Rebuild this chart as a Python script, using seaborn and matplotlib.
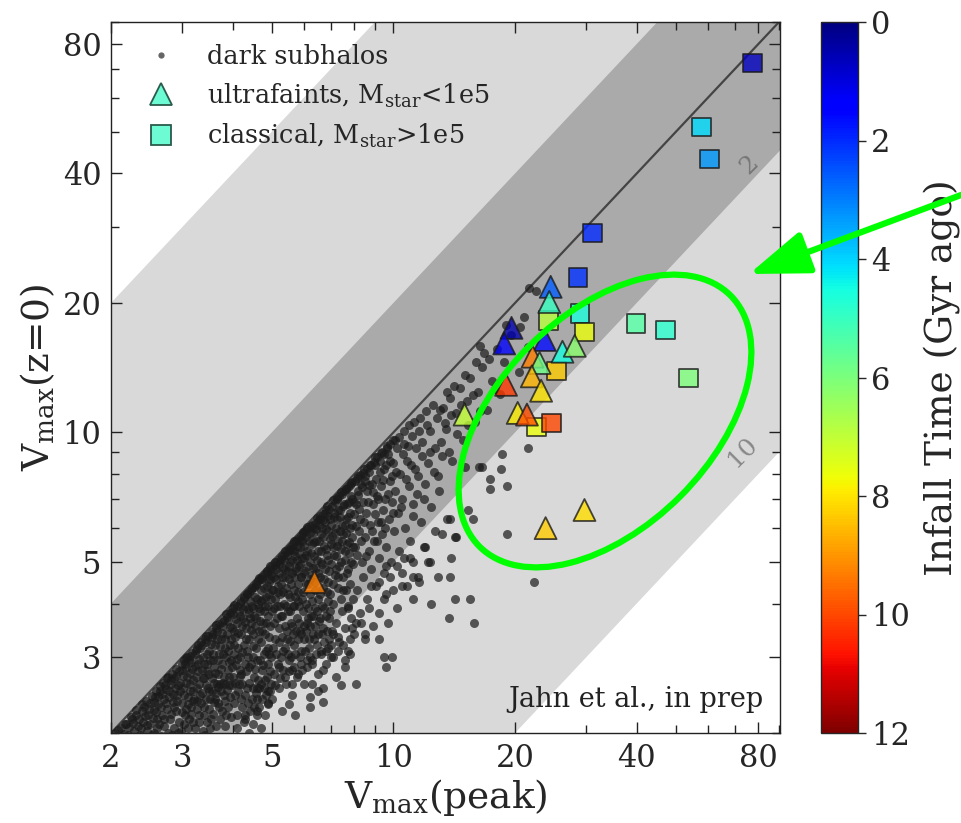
import matplotlib
matplotlib.use("Agg")
import matplotlib.pyplot as plt
import seaborn as sns
import pandas as pd
import numpy as np
from matplotlib.lines import Line2D
from matplotlib.patches import Ellipse, FancyArrowPatch
from matplotlib.transforms import IdentityTransform
from matplotlib.ticker import FixedLocator, LogLocator, NullFormatter, FixedFormatter

# ---------------- data ----------------
dark_points = [
 (2.05,2.0),(2.1,1.95),(2.12,2.05),(2.18,2.1),(2.2,1.98),(2.25,2.15),(2.28,2.02),(2.3,2.2),(2.33,2.08),(2.36,1.98),
 (2.38,2.25),(2.4,2.12),(2.42,2.3),(2.45,2.02),(2.47,2.2),(2.5,2.35),(2.5,2.1),(2.53,1.98),(2.55,2.26),(2.57,2.42),
 (2.6,2.15),(2.6,2.05),(2.62,2.33),(2.65,2.5),(2.67,2.2),(2.7,2.08),(2.7,2.4),(2.72,2.58),(2.75,2.28),(2.77,2.0),
 (2.78,2.5),(2.8,2.15),(2.82,2.65),(2.84,2.36),(2.86,2.05),(2.88,2.55),(2.9,2.25),(2.9,2.72),(2.92,2.45),(2.95,2.12),
 (2.96,2.62),(2.98,2.02),(3.0,2.35),(3.0,2.8),(2.55,2.0),(2.3,1.95),(2.66,1.97),(2.83,1.98),(2.93,2.0),(2.75,2.68),
 (2.02,1.96),(2.08,2.03),(2.15,1.99),(2.16,2.1),(2.22,2.06),(2.24,2.18),(2.27,2.11),(2.31,2.26),(2.34,2.16),(2.37,2.05),
 (2.39,2.33),(2.43,2.19),(2.44,2.38),(2.46,2.09),(2.49,2.28),(2.52,2.44),(2.54,2.17),(2.56,2.36),(2.58,2.51),(2.59,2.24),
 (2.61,2.44),(2.63,2.1),(2.64,2.57),(2.66,2.3),(2.68,2.47),(2.69,2.62),(2.71,2.16),(2.73,2.35),(2.74,2.53),(2.76,2.7),
 (2.79,2.42),(2.81,2.22),(2.81,2.6),(2.83,2.75),(2.85,2.46),(2.87,2.3),(2.87,2.68),(2.89,2.82),(2.91,2.38),(2.93,2.58),
 (2.94,2.78),(2.97,2.5),(2.99,2.9),(2.99,2.24),
 (3.02,2.55),(3.05,2.9),(3.05,2.2),(3.08,2.7),(3.1,2.42),(3.1,2.05),(3.12,2.95),(3.14,2.6),(3.15,2.3),(3.18,2.82),
 (3.2,2.5),(3.2,2.12),(3.22,3.05),(3.25,2.7),(3.26,2.38),(3.28,2.9),(3.3,2.6),(3.3,2.2),(3.32,3.15),(3.35,2.48),
 (3.36,2.8),(3.38,3.0),(3.4,2.3),(3.4,2.68),(3.42,1.98),(3.44,3.25),(3.45,2.9),(3.47,2.55),(3.5,2.75),(3.5,3.1),
 (3.52,2.4),(3.54,2.15),(3.55,3.35),(3.57,2.95),(3.6,2.62),(3.6,2.85),(3.62,3.2),(3.64,2.48),(3.66,3.45),(3.68,2.75),
 (3.7,3.05),(3.7,2.3),(3.72,2.6),(3.75,3.3),(3.76,2.9),(3.78,3.55),(3.8,2.7),(3.8,2.45),(3.82,3.15),(3.85,3.0),
 (3.86,2.2),(3.88,3.4),(3.9,2.8),(3.9,3.65),(3.92,2.58),(3.95,3.2),(3.96,2.95),(3.98,3.5),(4.0,2.7),(4.0,3.78),
 (3.01,2.72),(3.03,2.96),(3.04,2.45),(3.06,2.62),(3.07,2.84),(3.09,3.0),(3.11,2.33),(3.13,2.76),(3.13,2.5),(3.16,2.92),
 (3.17,3.07),(3.19,2.65),(3.21,2.4),(3.23,2.86),(3.24,3.12),(3.27,2.55),(3.29,2.78),(3.29,3.2),(3.31,2.98),(3.33,2.45),
 (3.34,3.25),(3.37,2.68),(3.39,2.9),(3.41,3.3),(3.43,2.58),(3.46,3.06),(3.46,2.78),(3.48,3.36),(3.49,2.5),(3.51,2.95),
 (3.53,3.22),(3.56,2.68),(3.56,3.44),(3.58,3.06),(3.59,2.36),(3.61,2.76),(3.63,3.5),(3.65,3.3),(3.67,2.95),(3.69,2.56),
 (3.71,3.58),(3.73,3.18),(3.74,2.82),(3.77,3.42),(3.79,3.05),(3.81,3.66),(3.83,2.6),(3.84,3.3),(3.87,3.72),(3.89,3.1),
 (3.91,2.92),(3.93,3.52),(3.94,3.8),(3.97,3.3),(3.99,2.85),
 (3.03,2.1),(3.07,2.28),(3.12,2.15),(3.16,2.22),(3.19,2.38),(3.23,2.05),(3.27,2.28),(3.31,2.12),(3.34,2.35),(3.37,2.02),
 (3.39,2.2),(3.43,2.4),(3.46,2.12),(3.49,2.28),(3.52,2.05),(3.55,2.5),(3.58,2.22),(3.61,2.4),(3.63,2.08),(3.66,2.6),
 (3.69,2.35),(3.72,2.15),(3.74,2.5),(3.77,2.25),(3.79,2.62),(3.82,2.38),(3.84,2.08),(3.87,2.52),(3.89,2.3),(3.92,2.7),
 (3.94,2.42),(3.97,2.18),(3.99,2.58),
 (3.06,2.99),(3.14,3.02),(3.26,3.16),(3.36,3.2),(3.44,3.36),(3.57,3.4),(3.64,3.57),(3.76,3.62),(3.86,3.78),(3.96,3.82),
 (4.02,3.05),(4.05,2.45),(4.06,3.35),(4.08,2.88),(4.1,3.6),(4.12,3.15),(4.14,2.6),(4.15,3.85),(4.18,3.0),(4.2,3.4),
 (4.2,2.75),(4.22,2.3),(4.25,3.7),(4.26,3.2),(4.28,2.9),(4.3,3.95),(4.32,3.5),(4.34,2.55),(4.35,3.1),(4.38,3.8),
 (4.4,2.85),(4.4,3.3),(4.42,4.05),(4.45,3.6),(4.46,2.4),(4.48,3.0),(4.5,3.9),(4.5,3.4),(4.52,2.7),(4.55,4.15),
 (4.56,3.15),(4.58,3.7),(4.6,2.95),(4.62,4.0),(4.64,3.45),(4.66,2.55),(4.68,3.85),(4.7,3.25),(4.7,4.3),(4.72,2.8),
 (4.75,3.6),(4.76,4.1),(4.78,3.05),(4.8,3.95),(4.82,3.4),(4.84,2.45),(4.86,4.4),(4.88,3.75),(4.9,3.15),(4.9,2.9),
 (4.92,4.2),(4.95,3.55),(4.96,4.55),(4.98,3.0),(5.0,3.85),(5.0,4.3),
 (4.01,3.9),(4.03,3.45),(4.04,3.2),(4.07,3.68),(4.09,2.98),(4.11,3.95),(4.13,3.42),(4.16,3.75),(4.17,2.8),(4.19,4.05),
 (4.21,3.55),(4.23,3.08),(4.24,3.88),(4.27,4.12),(4.29,3.62),(4.31,3.3),(4.33,4.2),(4.36,3.88),(4.37,3.0),(4.39,4.25),
 (4.41,3.7),(4.43,3.48),(4.44,4.3),(4.47,3.95),(4.49,3.18),(4.51,4.38),(4.53,3.75),(4.54,3.55),(4.57,4.45),(4.59,4.1),
 (4.61,3.3),(4.63,4.52),(4.65,3.9),(4.67,3.65),(4.69,4.55),(4.71,4.05),(4.73,3.45),(4.74,4.62),(4.77,3.85),(4.79,4.35),
 (4.81,4.68),(4.83,3.6),(4.85,4.15),(4.87,4.75),(4.89,3.95),(4.91,4.5),(4.93,3.35),(4.94,4.78),(4.97,4.1),(4.99,4.65),
 (4.02,2.35),(4.06,2.62),(4.09,2.2),(4.13,2.5),(4.16,2.72),(4.19,2.4),(4.23,2.6),(4.26,2.12),(4.29,2.45),(4.32,2.78),
 (4.36,2.35),(4.39,2.62),(4.42,2.25),(4.45,2.9),(4.48,2.55),(4.51,2.3),(4.54,2.82),(4.57,2.48),(4.61,2.65),(4.64,2.3),
 (4.67,2.95),(4.7,2.6),(4.73,2.4),(4.76,2.88),(4.79,2.55),(4.83,3.1),(4.86,2.7),(4.89,2.5),(4.93,3.05),(4.96,2.78),
 (4.99,2.6),
 (4.04,3.96),(4.16,4.02),(4.26,4.15),(4.34,4.22),(4.46,4.35),(4.56,4.42),(4.66,4.58),(4.74,4.55),(4.86,4.7),(4.95,4.88),
 (4.1,2.05),(4.3,2.15),(4.5,2.1),(4.6,2.25),(4.8,2.2),(4.9,2.35),(4.4,2.0),(4.7,2.05),
 (5.05,4.6),(5.05,3.6),(5.08,4.1),(5.1,3.3),(5.12,4.8),(5.15,3.95),(5.18,4.4),(5.2,3.5),(5.2,2.85),(5.22,4.95),
 (5.25,4.2),(5.28,3.75),(5.3,4.6),(5.32,3.1),(5.35,5.05),(5.36,4.0),(5.38,3.55),(5.4,4.8),(5.42,4.35),(5.45,3.3),
 (5.46,5.2),(5.48,3.85),(5.5,4.55),(5.52,2.95),(5.55,5.0),(5.56,4.15),(5.58,3.6),(5.6,5.35),(5.62,4.7),(5.65,3.4),
 (5.66,4.3),(5.68,3.95),(5.7,5.15),(5.72,3.05),(5.75,4.85),(5.76,5.45),(5.78,3.7),(5.8,4.45),(5.82,4.05),(5.85,5.25),
 (5.86,3.45),(5.88,4.95),(5.9,2.9),(5.92,4.6),(5.95,5.6),(5.96,3.85),(5.98,4.25),(6.0,5.1),(6.02,3.3),(6.05,4.75),
 (5.02,4.85),(5.04,4.3),(5.07,3.9),(5.09,4.92),(5.11,4.55),(5.14,3.7),(5.16,5.0),(5.17,4.25),(5.21,4.7),(5.23,3.95),
 (5.24,5.08),(5.27,4.45),(5.29,5.15),(5.31,3.75),(5.33,4.85),(5.34,4.25),(5.37,5.2),(5.39,4.6),(5.41,3.95),(5.44,5.28),
 (5.47,4.75),(5.49,4.2),(5.51,5.35),(5.53,4.9),(5.54,3.85),(5.57,5.4),(5.59,4.45),(5.61,5.05),(5.63,3.95),(5.64,5.5),
 (5.67,4.62),(5.69,5.3),(5.71,4.15),(5.73,5.58),(5.74,4.75),(5.77,5.05),(5.79,4.25),(5.81,5.65),(5.83,4.9),(5.84,3.95),
 (5.87,5.4),(5.89,4.6),(5.91,5.75),(5.93,4.1),(5.94,5.1),(5.97,5.8),(5.99,4.7),
 (5.03,3.15),(5.06,2.75),(5.1,2.58),(5.13,3.05),(5.17,2.9),(5.2,3.25),(5.24,2.68),(5.27,3.0),(5.31,3.35),(5.34,2.8),
 (5.38,3.15),(5.41,2.6),(5.45,3.45),(5.48,3.05),(5.52,2.78),(5.55,3.28),(5.59,3.0),(5.62,3.55),(5.66,2.85),(5.69,3.2),
 (5.73,3.45),(5.77,2.7),(5.8,3.3),(5.84,3.6),(5.88,3.0),(5.91,3.4),(5.95,2.8),(5.99,3.55),
 (5.08,5.0),(5.26,5.05),(5.38,5.3),(5.56,5.32),(5.68,5.6),(5.86,5.62),(5.96,5.88),
 (6.06,5.7),(6.08,4.0),(6.1,3.6),(6.12,5.3),(6.15,4.45),(6.18,3.15),(6.2,5.0),(6.2,5.85),(6.22,4.2),(6.25,3.75),
 (6.28,5.5),(6.3,4.65),(6.32,3.4),(6.35,5.15),(6.36,6.0),(6.38,4.3),(6.4,3.9),(6.42,5.6),(6.45,4.85),(6.48,3.2),
 (6.5,5.3),(6.52,4.1),(6.55,6.1),(6.56,3.65),(6.58,4.6),(6.6,5.8),(6.62,5.0),(6.65,3.4),(6.68,4.35),(6.7,6.25),
 (6.72,5.45),(6.75,3.9),(6.78,4.8),(6.8,5.95),(6.82,3.1),(6.85,5.2),(6.88,4.5),(6.9,6.4),(6.92,3.7),(6.95,5.65),
 (6.98,4.2),(7.0,6.1),
 (6.01,5.45),(6.04,5.9),(6.07,4.45),(6.09,5.2),(6.11,5.95),(6.14,4.9),(6.16,3.9),(6.19,5.6),(6.21,4.55),(6.24,6.05),
 (6.26,5.25),(6.29,4.05),(6.31,5.85),(6.34,4.85),(6.37,5.55),(6.39,6.15),(6.41,4.5),(6.44,5.95),(6.46,5.05),(6.49,6.25),
 (6.51,4.7),(6.54,5.6),(6.57,6.3),(6.59,4.2),(6.61,5.3),(6.64,6.0),(6.66,4.95),(6.69,6.45),(6.71,5.7),(6.74,4.55),
 (6.76,6.2),(6.79,5.35),(6.81,6.6),(6.84,4.25),(6.87,5.9),(6.89,5.05),(6.91,6.65),(6.94,4.75),(6.97,6.3),(6.99,5.5),
 (6.03,3.1),(6.07,3.45),(6.11,2.95),(6.15,3.7),(6.19,3.3),(6.23,3.55),(6.27,2.9),(6.31,3.75),(6.35,3.3),(6.39,3.55),
 (6.44,3.05),(6.48,3.85),(6.52,3.4),(6.57,3.7),(6.61,3.1),(6.66,3.95),(6.7,3.5),(6.75,3.25),(6.79,3.75),(6.84,3.45),
 (6.88,4.05),(6.93,3.3),(6.97,3.85),
 (6.12,6.02),(6.28,6.08),(6.47,6.32),(6.58,6.4),(6.77,6.5),(6.86,6.75),
 (7.02,4.95),(7.05,3.45),(7.08,5.4),(7.1,4.0),(7.12,6.5),(7.15,4.65),(7.18,5.85),(7.2,3.6),
 (7.22,5.15),(7.25,6.3),(7.28,4.35),(7.3,5.6),(7.32,3.25),(7.35,4.9),(7.38,6.6),(7.4,4.1),(7.42,5.35),(7.45,6.05),
 (7.48,3.85),(7.5,4.6),(7.52,5.8),(7.55,6.8),(7.58,5.05),(7.6,3.5),(7.62,4.3),(7.65,6.3),(7.68,5.5),(7.7,4.8),
 (7.72,3.95),(7.75,6.9),(7.78,5.25),(7.8,4.45),(7.82,6.0),(7.85,3.7),(7.88,5.7),(7.9,7.0),(7.92,4.95),(7.95,4.1),
 (7.98,6.45),
 (7.03,6.75),(7.06,5.75),(7.09,4.45),(7.11,6.35),(7.14,5.2),(7.16,6.9),(7.19,4.8),(7.21,6.0),(7.24,7.0),(7.27,5.45),
 (7.29,6.6),(7.31,4.6),(7.34,7.1),(7.37,5.9),(7.39,6.35),(7.41,5.0),(7.44,7.2),(7.46,5.6),(7.49,6.75),(7.51,4.3),
 (7.54,7.3),(7.57,6.1),(7.59,5.3),(7.61,7.4),(7.64,5.85),(7.67,6.8),(7.69,4.7),(7.71,7.45),(7.74,6.35),(7.77,5.55),
 (7.79,7.55),(7.81,6.5),(7.84,5.0),(7.87,7.1),(7.89,6.1),(7.91,7.65),(7.94,5.4),(7.97,6.9),
 (7.07,6.95),(7.26,7.05),(7.43,7.28),(7.63,7.38),(7.83,7.62),
 (8.05,5.4),(8.1,6.8),(8.12,4.3),(8.15,7.3),(8.2,5.9),(8.25,3.8),(8.28,6.3),(8.3,7.6),(8.35,5.0),(8.4,6.9),
 (8.42,4.6),(8.48,7.9),(8.5,5.7),(8.55,6.5),(8.6,4.1),(8.62,7.3),(8.68,5.3),(8.7,8.1),(8.75,6.1),(8.8,4.8),
 (8.85,7.6),(8.9,6.8),(8.95,5.6),(9.0,8.4),(9.05,4.4),(9.1,7.1),(9.15,6.2),(9.2,5.1),(9.25,8.6),(9.3,7.5),
 (9.35,5.8),(9.4,6.6),(9.45,4.7),(9.5,8.2),(9.55,7.0),(9.6,5.4),(9.68,8.9),(9.75,6.3),(9.8,7.7),(9.85,5.0),
 (9.9,6.9),(10.0,8.5),(10.05,5.9),(10.1,7.3),(10.2,9.2),(10.25,6.5),(10.3,5.3),(10.4,8.0),(10.5,7.0),(10.6,9.4),
 (8.02,7.7),(8.07,6.05),(8.11,7.85),(8.14,5.2),(8.18,7.15),(8.22,6.65),(8.27,7.95),(8.31,5.6),(8.36,7.45),(8.41,8.05),
 (8.45,6.2),(8.52,7.7),(8.57,5.15),(8.61,8.25),(8.66,6.9),(8.72,7.55),(8.78,8.4),(8.83,5.9),(8.88,7.25),(8.93,8.55),
 (8.98,6.45),(9.04,7.8),(9.08,8.75),(9.13,5.6),(9.18,7.0),(9.24,8.1),(9.29,8.95),(9.34,6.2),(9.41,7.75),(9.47,8.9),
 (9.53,6.0),(9.58,8.4),(9.64,9.2),(9.71,7.2),(9.78,8.6),(9.83,9.4),(9.92,7.9),(9.97,6.5),
 (8.16,7.92),(8.46,8.22),(8.74,8.38),(9.02,8.78),(9.36,9.02),(9.66,9.3),(9.95,9.62),
 (10.7,6.0),(10.8,8.6),(10.9,7.5),(11.0,5.6),(11.1,9.8),(11.2,6.8),(11.3,8.2),(11.45,7.2),(11.6,10.1),(11.7,6.2),
 (11.8,8.8),(12.0,7.6),(12.1,10.4),(12.3,9.0),(12.4,6.7),(12.6,8.1),(12.8,10.8),(13.0,7.3),(13.1,9.5),(13.3,11.4),
 (10.08,9.6),(10.15,8.1),(10.35,9.75),(10.45,6.7),(10.55,8.9),(10.65,10.1),(10.75,7.8),(10.85,9.3),(10.95,10.4),(11.05,8.4),
 (11.15,6.4),(11.25,10.6),(11.4,9.2),(11.5,7.9),(11.65,10.8),(11.75,9.5),(11.9,7.0),(12.05,11.2),(12.2,8.5),(12.35,10.1),
 (12.5,11.6),(12.7,9.2),(12.9,7.9),(13.05,11.3),(13.2,8.8),(13.4,10.5),(13.6,12.4),(13.75,9.0),(13.9,11.0),(14.1,12.8),
 (14.4,9.9),(14.7,11.6),(15.0,13.6),(15.3,10.4),(15.7,12.2),(16.0,14.6),(16.4,11.2),(17.2,14.8),(17.8,12.6),
 (13.5,10.2),(13.8,12.0),(14.0,8.6),(14.3,11.1),(14.6,12.7),(14.9,9.6),(15.2,11.8),(15.5,13.4),(15.9,10.6),(16.2,12.4),
 (16.6,14.2),(17.0,11.3),(17.5,13.2),(18.0,15.6),(18.4,12.3),(18.8,14.6),(19.5,16.8),(20.5,13.8),(21.5,15.8),(19.0,17.8),
 (22.5,21.3),(21.0,18.5),(15.0,8.3),(21.7,21.7),(20.6,17.6),(16.4,15.9),(16.8,15.3),
 (22.3,4.49),(19.1,5.8),(17.3,7.8),(17.3,7.4),(19.1,7.5),(18.5,8.2),(18.6,8.9),(21.5,9.2),(13.9,5.1),(15.5,4.1),
 (14.2,4.1),(13.7,3.7),(12.4,4.0),(15.8,3.6),(11.6,4.5),(11.2,4.1),(10.5,4.4),(13.2,5.8),(12.7,5.9),(12.0,5.4),
 (13.8,6.3),(14.2,5.7),(16.3,8.3),(15.3,6.6),(15.7,6.3),(16.6,8.3),(13.6,6.3),(14.3,5.7),(11.0,5.1),(10.2,4.9),
 (12.3,5.0),(11.2,4.6),(9.8,4.6),(9.2,4.5),(9.6,4.2),
 (6.2,2.42),(6.7,2.36),(7.4,2.58),(8.1,2.6),(6.3,2.6),(6.5,2.5),(7.0,3.0),(7.6,2.85),(7.7,3.1),(6.2,3.0),
 (6.7,2.8),(5.6,2.6),(5.6,2.8),(4.9,2.33),(5.5,2.33),(4.6,2.4),(4.3,2.2),(4.6,2.2),(7.8,3.3),(7.9,3.5),
 (8.1,3.6),(7.0,3.2),(7.3,3.1),(5.9,3.1),(9.6,2.85),(9.9,3.0),(9.2,3.3),(8.5,3.4),(12.9,4.6),(13.8,4.6),
 (11.5,4.6),(12.2,5.0),(10.6,5.1),(11.9,5.4),(9.6,4.9),(8.8,4.4),(7.7,3.9),(7.1,3.4),(9.5,3.0),
 (5.0,2.4),(5.2,2.55),(5.4,2.7),(5.6,2.45),(5.8,2.75),(6.0,2.6),(6.1,2.85),(6.3,2.95),(6.5,2.75),(6.6,3.05),
 (6.8,2.9),(6.9,3.15),(7.1,3.0),(7.3,3.35),(7.5,3.2),(7.6,2.95),(7.8,3.05),(8.0,3.4),(8.3,3.6),(8.5,3.3),
 (8.7,3.9),(8.9,3.55),(9.2,3.8),(9.5,4.1),(9.7,3.6),(10.0,4.3),(10.2,3.9),(10.5,4.7),(10.8,4.4),(11.2,5.0),
 (5.3,2.25),(5.7,2.2),(6.2,2.3),(6.7,2.55),(7.2,2.7),(4.6,2.55),(4.8,2.65),(4.95,2.5),
]
dark_vpeak = [p[0] for p in dark_points]
dark_vz0 = [p[1] for p in dark_points]

uf_vpeak  = [24.5, 24.3, 19.6, 18.8, 23.7, 26.2, 28.1, 22.1, 23.0, 22.0, 23.2, 19.0, 20.3, 21.4, 15.0, 6.38, 23.8, 29.7]
uf_vz0    = [21.8, 20.1, 17.5, 16.1, 16.4, 15.4, 15.9, 15.0, 14.5, 13.5, 12.5, 12.9, 11.1, 11.0, 11.0, 4.49, 5.99, 6.6]
uf_infall = [2.6, 5.0, 0.5, 1.3, 1.6, 4.5, 6.2, 9.3, 5.8, 8.6, 8.0, 10.2, 7.9, 9.9, 7.0, 9.3, 8.3, 8.1]

cl_vpeak  = [77.3, 57.8, 60.5, 31.1, 28.6, 29.0, 29.7, 39.9, 47.1, 53.7, 25.3, 24.2, 22.6, 24.6]
cl_vz0    = [72.3, 51.3, 43.2, 29.1, 22.9, 18.9, 17.1, 17.9, 17.3, 13.4, 13.9, 18.2, 10.3, 10.5]
cl_infall = [0.7, 4.1, 3.3, 2.0, 2.1, 4.6, 7.6, 5.4, 4.8, 6.0, 8.3, 6.9, 7.6, 10.0]

band_ratios = [10, 2]
band_labels = ["10", "2"]
x_ticks = [2, 3, 5, 10, 20, 40, 80]
y_ticks = [3, 5, 10, 20, 40, 80]
cbar_ticks = [0, 2, 4, 6, 8, 10, 12]

# ---------------- style ----------------
sns.set_theme(style="ticks")
plt.rcParams["font.family"] = ["DejaVu Serif"]
plt.rcParams["mathtext.fontset"] = "dejavuserif"

W, H = 961, 823
fig = plt.figure(figsize=(W / 100, H / 100), dpi=100)
ax = fig.add_axes([111 / W, 1 - 733 / H, (780 - 111) / W, (733 - 22) / H])
cax = fig.add_axes([821 / W, 1 - 733 / H, 37 / W, (733 - 22) / H])

xlim = (2, 90.5)
ylim = (2, 90)
ax.set_xscale("log")
ax.set_yscale("log")

xx = np.array([1.0, 200.0])
light, dark = "#d9d9d9", "#aaaaaa"
ax.fill_between(xx, xx / band_ratios[0], xx * band_ratios[0], color=light, lw=0, zorder=0)
ax.fill_between(xx, xx / band_ratios[1], xx * band_ratios[1], color=dark, lw=0, zorder=0.5)
ax.plot(xx, xx, color="#444444", lw=1.6, zorder=1)

ax.text(76, 42, band_labels[1], rotation=45, color="#777777", fontsize=18,
        ha="center", va="center", zorder=1)
ax.text(73, 9.0, band_labels[0], rotation=45, color="#888888", fontsize=18,
        ha="center", va="center", zorder=1)

dark_df = pd.DataFrame({"vpeak": dark_vpeak, "vz0": dark_vz0})
sns.scatterplot(data=dark_df, x="vpeak", y="vz0", ax=ax, color="#1a1a1a", alpha=0.7,
                s=42, linewidth=0, legend=False, zorder=2)

cmap = plt.get_cmap("jet")
norm = plt.Normalize(0, 12)
cl_df = pd.DataFrame({"vpeak": cl_vpeak, "vz0": cl_vz0, "infall": cl_infall})
uf_df = pd.DataFrame({"vpeak": uf_vpeak, "vz0": uf_vz0, "infall": uf_infall})
sns.scatterplot(data=cl_df, x="vpeak", y="vz0", hue="infall", palette=cmap, hue_norm=norm,
                marker="s", s=175, edgecolor="#1a1a1a", linewidth=1.3, alpha=0.8,
                legend=False, ax=ax, zorder=3)
sns.scatterplot(data=uf_df, x="vpeak", y="vz0", hue="infall", palette=cmap, hue_norm=norm,
                marker="^", s=250, edgecolor="#1a1a1a", linewidth=1.3, alpha=0.8,
                legend=False, ax=ax, zorder=4)

ax.set_xlim(*xlim)
ax.set_ylim(*ylim)
ax.xaxis.set_major_locator(FixedLocator(x_ticks))
ax.xaxis.set_major_formatter(FixedFormatter([str(t) for t in x_ticks]))
ax.yaxis.set_major_locator(FixedLocator(y_ticks))
ax.yaxis.set_major_formatter(FixedFormatter([str(t) for t in y_ticks]))
ax.xaxis.set_minor_locator(LogLocator(base=10, subs=np.arange(2, 10)))
ax.yaxis.set_minor_locator(LogLocator(base=10, subs=np.arange(2, 10)))
ax.xaxis.set_minor_formatter(NullFormatter())
ax.yaxis.set_minor_formatter(NullFormatter())
ax.tick_params(which="both", direction="in", top=True, right=True, width=1.0, color="#222222")
ax.tick_params(which="major", length=8, labelsize=22, pad=7)
ax.tick_params(which="minor", length=6)
for sp in ax.spines.values():
    sp.set_linewidth(1.0)
    sp.set_color("#222222")

ax.set_xlabel(r"V$_{\rm max}$(peak)", fontsize=27, labelpad=2)
ax.set_ylabel(r"V$_{\rm max}$(z=0)", fontsize=27, labelpad=4)

ax.text(0.975, 0.028, "Jahn et al., in prep", transform=ax.transAxes, ha="right", va="bottom",
        fontsize=19.5, color="#222222")

handles = [
    Line2D([], [], marker="o", ls="", color="#666666", markersize=4.5, markeredgewidth=0),
    Line2D([], [], marker="^", ls="", markerfacecolor="#6cfbd2", markeredgecolor="#2a5a4a",
           markersize=16, markeredgewidth=1.3),
    Line2D([], [], marker="s", ls="", markerfacecolor="#6cfbd2", markeredgecolor="#2a5a4a",
           markersize=14, markeredgewidth=1.3),
]
labels = ["dark subhalos", r"ultrafaints, M$_{\rm star}$<1e5", r"classical, M$_{\rm star}$>1e5"]
ax.legend(handles, labels, loc="upper left", frameon=False, fontsize=18.4,
          handletextpad=0.8, labelspacing=0.47, borderaxespad=0.0, bbox_to_anchor=(0.021, 0.983))

sm = matplotlib.cm.ScalarMappable(cmap=cmap, norm=norm)
sm.set_array([])
cbar = fig.colorbar(sm, cax=cax, ticks=cbar_ticks)
cbar.ax.invert_yaxis()
cbar.ax.tick_params(labelsize=22, length=6, width=1.0, direction="out")
cbar.outline.set_linewidth(1.0)
cbar.set_label("Infall Time (Gyr ago)", fontsize=27, labelpad=10)

# annotation overlays (figure pixels)
ell = Ellipse((605, H - 421), 355, 213, angle=45, fill=False, edgecolor="#00ff00",
              lw=4.5, transform=IdentityTransform(), zorder=10)
fig.add_artist(ell)
arr = FancyArrowPatch(posA=(1000, H - 180.5), posB=(749, H - 274), transform=IdentityTransform(),
                      arrowstyle="-|>,head_length=1.0,head_width=0.36", mutation_scale=37,
                      color="#00ff00", lw=4.5, shrinkA=0, shrinkB=0, zorder=10)
fig.add_artist(arr)

fig.savefig("out.png", dpi=100)
